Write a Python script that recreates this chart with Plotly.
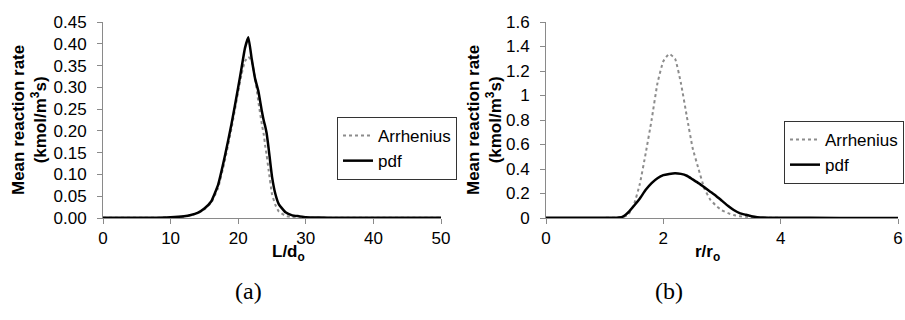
import plotly.graph_objects as go
from plotly.subplots import make_subplots

# ---- data: panel (a) ----
L_do = [0, 2, 4, 6, 8, 10, 12, 13, 14, 15, 16, 17, 18, 19, 20, 20.5, 21, 21.5,
        22, 22.5, 23, 23.5, 23.8, 24, 24.2, 24.5, 25, 25.5, 26, 27, 28, 29, 30,
        32, 35, 40, 45, 50]
pdf_a = [0.0005, 0.0005, 0.0005, 0.0005, 0.0008, 0.0015, 0.004, 0.007, 0.012,
         0.022, 0.038, 0.075, 0.14, 0.215, 0.30, 0.345, 0.39, 0.415,
         0.365, 0.32, 0.29, 0.245, 0.222, 0.21, 0.195, 0.16, 0.095, 0.055, 0.032,
         0.013, 0.006, 0.004, 0.002, 0.001, 0.0005, 0.0005, 0.0005, 0.0005]
arr_a = [0.0005, 0.0005, 0.0005, 0.0005, 0.0007, 0.0012, 0.003, 0.006, 0.011,
         0.02, 0.035, 0.068, 0.13, 0.205, 0.29, 0.33, 0.36, 0.37,
         0.36, 0.32, 0.265, 0.215, 0.19, 0.165, 0.145, 0.11, 0.055, 0.03, 0.015,
         0.005, 0.002, 0.0015, 0.001, 0.0005, 0.0005, 0.0005, 0.0005, 0.0005]

# ---- data: panel (b) ----
r_ro = [0, 0.5, 1.0, 1.2, 1.3, 1.4, 1.5, 1.6, 1.7, 1.8, 1.9, 2.0, 2.1, 2.2, 2.3,
        2.4, 2.5, 2.6, 2.7, 2.8, 2.9, 3.0, 3.1, 3.2, 3.3, 3.4, 3.5, 3.6, 3.8,
        4.0, 5.0, 6.0]
arr_b = [0.001, 0.001, 0.001, 0.002, 0.005, 0.025, 0.11, 0.28, 0.53, 0.80, 1.10,
         1.28, 1.34, 1.30, 1.10, 0.83, 0.57, 0.40, 0.24, 0.15, 0.10, 0.062, 0.04,
         0.024, 0.015, 0.01, 0.006, 0.004, 0.002, 0.001, 0.001, 0.001]
pdf_b = [0.002, 0.002, 0.002, 0.003, 0.008, 0.045, 0.10, 0.16, 0.23, 0.285,
         0.325, 0.35, 0.36, 0.366, 0.36, 0.345, 0.315, 0.285, 0.25, 0.215, 0.18,
         0.14, 0.10, 0.065, 0.04, 0.027, 0.015, 0.007, 0.003, 0.002, 0.001, 0.001]

series_names = ["Arrhenius", "pdf"]
W, H = 905, 320
FONT = "Liberation Sans, Arial, sans-serif"

fig = make_subplots(rows=1, cols=2)

arr_line = dict(color="#8c8c8c", width=2, dash="dot", shape="spline", smoothing=0.4)
pdf_line = dict(color="black", width=2.5, shape="spline", smoothing=0.4)

fig.add_trace(go.Scatter(x=L_do, y=arr_a, mode="lines", name=series_names[0],
                         line=arr_line, legend="legend"), row=1, col=1)
fig.add_trace(go.Scatter(x=L_do, y=pdf_a, mode="lines", name=series_names[1],
                         line=pdf_line, legend="legend"), row=1, col=1)
fig.add_trace(go.Scatter(x=r_ro, y=arr_b, mode="lines", name=series_names[0],
                         line=arr_line, legend="legend2"), row=1, col=2)
fig.add_trace(go.Scatter(x=r_ro, y=pdf_b, mode="lines", name=series_names[1],
                         line=pdf_line, legend="legend2"), row=1, col=2)

def px_x(p):
    return p / W

def px_y(p):
    return 1 - p / H

axis_common = dict(showgrid=False, zeroline=False, showline=True,
                   linecolor="#8a8a8a", linewidth=1, ticks="outside",
                   ticklen=5, tickcolor="#8a8a8a",
                   tickfont=dict(family=FONT, size=17, color="black"))

fig.update_layout(
    width=W, height=H,
    margin=dict(l=0, r=0, t=0, b=0, autoexpand=False),
    paper_bgcolor="white", plot_bgcolor="white",
    font=dict(family=FONT, color="black"),
    xaxis=dict(domain=[px_x(103), px_x(441)], range=[0, 50], dtick=10,
               **axis_common),
    yaxis=dict(domain=[px_y(218), px_y(22)], range=[0, 0.45], dtick=0.05,
               tickformat=".2f", ticklabelstandoff=7, **axis_common),
    xaxis2=dict(domain=[px_x(546), px_x(898)], range=[0, 6], dtick=2,
                **axis_common),
    yaxis2=dict(domain=[px_y(218), px_y(22)], range=[0, 1.6], dtick=0.2,
                ticklabelstandoff=7, **axis_common),
    legend=dict(x=px_x(337), y=px_y(117), xanchor="left", yanchor="top",
                bordercolor="#333333", borderwidth=1, bgcolor="white",
                font=dict(family=FONT, size=17), tracegroupgap=0,
                itemwidth=30),
    legend2=dict(x=px_x(784), y=px_y(121), xanchor="left", yanchor="top",
                 bordercolor="#333333", borderwidth=1, bgcolor="white",
                 font=dict(family=FONT, size=17), tracegroupgap=0,
                 itemwidth=30),
    showlegend=True,
)

ytitle = "<b>Mean reaction rate<br>(kmol/m<sup>3</sup>s)</b>"
for xc in (29, 484):
    fig.add_annotation(text=ytitle, xref="paper", yref="paper",
                       x=px_x(xc), y=px_y(120), textangle=-90,
                       showarrow=False, font=dict(family=FONT, size=17),
                       xanchor="center", yanchor="middle")

fig.add_annotation(text="<b>L/d<sub>o</sub></b>", xref="paper", yref="paper",
                   x=px_x(270), y=px_y(266), showarrow=False,
                   font=dict(family=FONT, size=17))
fig.add_annotation(text="<b>r/r<sub>o</sub></b>", xref="paper", yref="paper",
                   x=px_x(722), y=px_y(266), showarrow=False,
                   font=dict(family=FONT, size=17))

for txt, xc in (("(a)", 233), ("(b)", 685)):
    fig.add_annotation(text=txt, xref="paper", yref="paper",
                       x=px_x(xc), y=px_y(306), showarrow=False,
                       font=dict(family="Liberation Serif, DejaVu Serif, serif",
                                 size=24))

fig.write_html("out.html")
